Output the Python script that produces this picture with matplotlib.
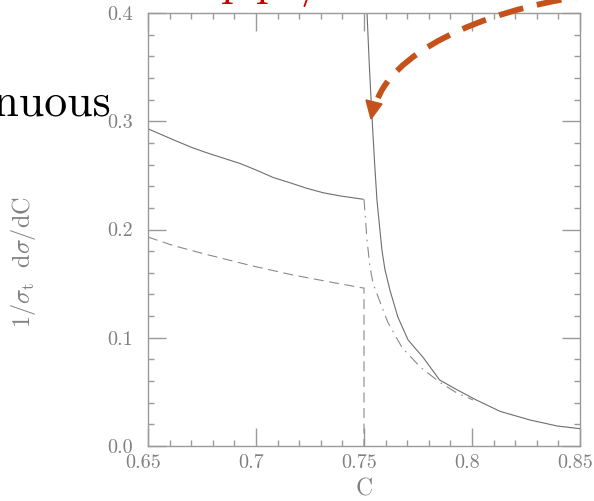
import matplotlib
matplotlib.use('Agg')
import matplotlib.pyplot as plt
import matplotlib.transforms as mtransforms
from matplotlib.path import Path
from matplotlib.patches import PathPatch, Polygon
from matplotlib.ticker import FixedLocator, FixedFormatter, MultipleLocator

# solid curve, below the threshold (C < 0.75)
solid_left_c = [0.65, 0.6616, 0.67, 0.677, 0.6926, 0.70, 0.708, 0.716, 0.7236,
                0.731, 0.739, 0.7495]
solid_left_v = [0.293, 0.283, 0.276, 0.271, 0.261, 0.255, 0.248, 0.243, 0.238,
                0.234, 0.231, 0.228]

# solid curve, above the threshold (diverges at C -> 0.75)
solid_right_c = [0.7512, 0.7514, 0.7525, 0.7537, 0.7548, 0.756, 0.7583, 0.7597,
                 0.762, 0.7657, 0.7704, 0.7773, 0.785, 0.793, 0.802, 0.813,
                 0.8269, 0.8394, 0.85]
solid_right_v = [0.42, 0.40, 0.35, 0.304, 0.265, 0.227, 0.181, 0.163,
                 0.144, 0.119, 0.098, 0.082, 0.061, 0.052, 0.0425, 0.032,
                 0.024, 0.0185, 0.016]

# dashed curve (drops to zero at C = 0.75)
dashed_c = [0.65, 0.662, 0.677, 0.697, 0.717, 0.7357, 0.7495, 0.75, 0.75]
dashed_v = [0.193, 0.185, 0.177, 0.167, 0.158, 0.151, 0.146, 0.146, 0.0]

# dash-dot curve (continuation above C = 0.75)
dashdot_c = [0.75, 0.7514, 0.7528, 0.7542, 0.7597, 0.7611, 0.7676, 0.776,
             0.785, 0.793, 0.8005]
dashdot_v = [0.228, 0.190, 0.165, 0.150, 0.121, 0.114, 0.091, 0.073,
             0.059, 0.049, 0.0425]

x_ticks = [0.65, 0.7, 0.75, 0.8, 0.85]
x_labels = ['0.65', '0.7', '0.75', '0.8', '0.85']
y_ticks = [0.0, 0.1, 0.2, 0.3, 0.4]
y_labels = ['0.0', '0.1', '0.2', '0.3', '0.4']

W, H = 594, 501
plt.rcParams['mathtext.fontset'] = 'cm'
plt.rcParams['axes.unicode_minus'] = False

fig = plt.figure(figsize=(W / 100, H / 100), dpi=100)
ax = fig.add_axes([148 / W, 1 - 446 / H, 432 / W, 433 / H])

grey = '#9a9a9a'
ax.plot(solid_left_c, solid_left_v, color='#6e6e6e', lw=0.8)
ax.plot(solid_right_c, solid_right_v, color='#6e6e6e', lw=0.8)
ax.plot(dashed_c, dashed_v, color='#8a8a8a', lw=0.8, dashes=(9, 5))
ax.plot(dashdot_c, dashdot_v, color='#8a8a8a', lw=0.8, dashes=(10, 5, 1.5, 5))

ax.set_xlim(0.65, 0.85)
ax.set_ylim(0.0, 0.4)
ax.xaxis.set_major_locator(FixedLocator(x_ticks))
ax.xaxis.set_major_formatter(FixedFormatter(x_labels))
ax.yaxis.set_major_locator(FixedLocator(y_ticks))
ax.yaxis.set_major_formatter(FixedFormatter(y_labels))
ax.xaxis.set_minor_locator(MultipleLocator(0.01))
ax.yaxis.set_minor_locator(MultipleLocator(0.02))

for s in ax.spines.values():
    s.set_color(grey)
    s.set_linewidth(1.0)
ax.tick_params(which='both', direction='in', top=True, right=True,
               color=grey, width=1.0)
ax.tick_params(which='major', length=13)
ax.tick_params(which='minor', length=4.3)
ax.tick_params(axis='x', pad=5.5, labelsize=14.5, labelcolor='#808080')
ax.tick_params(axis='y', pad=11, labelsize=14.5, labelcolor='#808080')
shift = mtransforms.ScaledTranslation(-4.5 / 100, 0, fig.dpi_scale_trans)
for lab in ax.get_xticklabels():
    lab.set_family('cmr10')
    lab.set_transform(lab.get_transform() + shift)
for lab in ax.get_yticklabels():
    lab.set_family('cmr10')

fig.text(364 / W, 1 - 489 / H, 'C', family='cmr10', fontsize=17,
         color='#808080', ha='center', va='center')
fig.text(24 / W, 1 - 262 / H, r'$1/\sigma_{\rm t}\ \ {\rm d}\sigma/{\rm dC}$',
         fontsize=17.5, color='#808080', rotation=90, ha='center', va='center')

# leftover slide text around the plot
fig.text(111 / W, 1 - 115 / H, 'continuous', family='cmr10', fontsize=33,
         color='black', ha='right', va='baseline')
for xp, ch in [(221, 'p'), (256, 'p'), (300, '/')]:
    fig.text(xp / W, 1 + 5 / H, ch, family='cmr10', fontsize=33,
             color='#cc0000', ha='left', va='baseline')

# orange dashed arrow pointing at the divergence
def px(x, y):
    return (x / W, 1 - y / H)

curve = Path([px(600, -6), px(500, 5), px(400, 45), px(378, 98)],
             [Path.MOVETO, Path.CURVE4, Path.CURVE4, Path.CURVE4])
fig.patches.append(PathPatch(curve, fill=False, edgecolor='#c4521a', lw=4.2,
                             linestyle=(0, (4.3, 2.4)),
                             transform=fig.transFigure))
fig.patches.append(Polygon([px(366, 100), px(382, 104), px(371, 119)],
                           closed=True, facecolor='#c4521a',
                           edgecolor='#c4521a', transform=fig.transFigure))

fig.savefig('out.png', dpi=100)
